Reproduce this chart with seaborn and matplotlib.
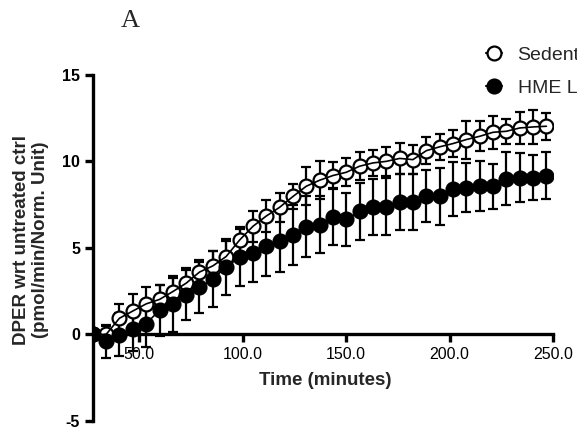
import matplotlib
matplotlib.use("Agg")
import matplotlib.pyplot as plt
import pandas as pd
import seaborn as sns
from matplotlib.lines import Line2D

# Measurement times (minutes)
time_min = [27.5, 34.0, 40.4, 46.9, 53.3, 59.8, 66.2, 72.7, 79.1, 85.6,
            92.0, 98.5, 104.9, 111.4, 117.8, 124.3, 130.7, 137.2, 143.6, 150.1,
            156.5, 163.0, 169.4, 175.9, 182.3, 188.8, 195.2, 201.7, 208.1, 214.6,
            221.0, 227.5, 233.9, 240.4, 246.8]

# Sedentary group: mean and error
sed_mean = [0.0, 0.0, 0.93, 1.35, 1.76, 2.02, 2.47, 2.96, 3.6, 3.96,
            4.5, 5.45, 6.24, 6.84, 7.34, 7.97, 8.56, 8.91, 9.18, 9.37,
            9.72, 9.91, 10.0, 10.17, 10.1, 10.62, 10.84, 11.03, 11.26, 11.45,
            11.68, 11.74, 11.93, 11.99, 12.03]
sed_err = [0.0, 0.5, 0.8, 1.0, 0.95, 0.85, 0.8, 0.85, 0.7, 0.85,
           0.9, 0.75, 0.9, 0.9, 0.85, 0.75, 1.1, 1.1, 0.8, 0.8,
           0.8, 0.75, 0.85, 0.9, 0.85, 0.77, 0.77, 0.77, 1.1, 0.87,
           0.95, 0.72, 0.93, 0.96, 0.78]

# HME group: mean and error
hme_mean = [0.0, -0.39, -0.03, 0.3, 0.62, 1.39, 1.75, 2.29, 2.72, 3.2,
            3.9, 4.45, 4.69, 5.1, 5.39, 5.72, 6.22, 6.35, 6.8, 6.64,
            7.12, 7.37, 7.37, 7.67, 7.64, 7.99, 7.99, 8.41, 8.47, 8.56,
            8.56, 8.99, 9.05, 9.05, 9.18]
hme_err = [0.0, 0.95, 1.25, 1.27, 1.35, 1.48, 1.64, 1.44, 1.46, 1.6,
           1.62, 1.66, 1.66, 1.73, 1.77, 1.73, 1.76, 1.67, 1.66, 1.54,
           1.64, 1.6, 1.65, 1.62, 1.62, 1.5, 1.64, 1.58, 1.41, 1.44,
           1.3, 1.54, 1.41, 1.3, 1.35]

series_labels = ["Sedentary", "HME Low"]
x_ticks = [50, 100, 150, 200, 250]
x_tick_labels = ["50.0", "100.0", "150.0", "200.0", "250.0"]
y_ticks = [-5, 0, 5, 10, 15]
y_tick_labels = ["-5", "0", "5", "10", "15"]

df = pd.DataFrame({"time": time_min,
                   "sed": sed_mean, "sed_err": sed_err,
                   "hme": hme_mean, "hme_err": hme_err})

sns.set_style("ticks")
plt.rcParams["font.family"] = ["Liberation Sans", "DejaVu Sans"]

fig = plt.figure(figsize=(5.77, 4.29), dpi=100)
ax = fig.add_axes([0.1607, 0.019, 0.7977, 0.8065])

msize = 10.0
mew = 1.6

# error bars for both groups
for col in ("sed", "hme"):
    ax.errorbar(df["time"], df[col], yerr=df[col + "_err"], fmt="none",
                ecolor="black", elinewidth=1.6, capsize=3.8, capthick=1.6,
                zorder=2)

# Sedentary: open circles with the connecting line drawn over them
sns.scatterplot(data=df, x="time", y="sed", ax=ax, marker="o", s=msize ** 2,
                facecolor="white", edgecolor="black", linewidth=mew, zorder=3)
sns.lineplot(data=df, x="time", y="sed", ax=ax, color="black", lw=1.2, zorder=4)

# HME: filled circles
sns.scatterplot(data=df, x="time", y="hme", ax=ax, marker="o", s=msize ** 2,
                facecolor="black", edgecolor="black", linewidth=mew, zorder=5)
sns.lineplot(data=df, x="time", y="hme", ax=ax, color="black", lw=1.2, zorder=6)

ax.set_xlim(27.5, 250)
ax.set_ylim(-5, 15)
ax.set_xticks(x_ticks)
ax.set_xticklabels(x_tick_labels, fontweight="bold")
ax.set_yticks(y_ticks)
ax.set_yticklabels(y_tick_labels, fontweight="bold")

for s in ("top", "right"):
    ax.spines[s].set_visible(False)
ax.spines["bottom"].set_position(("data", 0))
for s in ("left", "bottom"):
    ax.spines[s].set_linewidth(2.4)
    ax.spines[s].set_color("black")
ax.tick_params(axis="both", direction="out", length=6, width=2.4,
               labelsize=11.5, colors="black", pad=3)

ax.set_xlabel("Time (minutes)", fontsize=13.5, fontweight="bold")
ax.xaxis.set_label_coords(0.505, 0.14)
ax.set_ylabel("DPER wrt untreated ctrl\n(pmol/min/Norm. Unit)", fontsize=13.5,
              fontweight="bold", linespacing=1.15, multialignment="center")
ax.yaxis.label.set_verticalalignment("center")
ax.yaxis.set_label_coords(-0.134, 0.522)

fig.text(130 / 577, 1 - 21 / 429, "A", family=["Liberation Serif"],
         fontsize=19, ha="center", va="center")

handles = [
    Line2D([0], [0], color="black", lw=1.5, marker="o", markersize=msize,
           markerfacecolor="white", markeredgecolor="black", markeredgewidth=mew),
    Line2D([0], [0], color="black", lw=1.5, marker="o", markersize=msize,
           markerfacecolor="black", markeredgecolor="black", markeredgewidth=mew),
]
fig.legend(handles, series_labels, loc="upper left",
           bbox_to_anchor=(485.5 / 577, 1 - 46 / 429), frameon=False,
           fontsize=14, handlelength=0.85, handletextpad=0.8,
           borderpad=0, borderaxespad=0, labelspacing=0.81)

fig.savefig("out.png", dpi=100)
